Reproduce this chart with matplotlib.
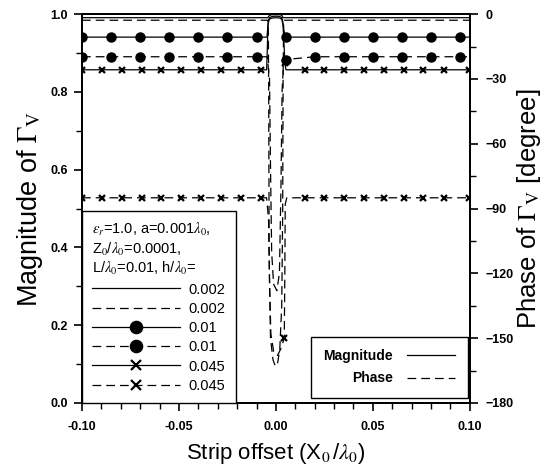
import numpy as np
import matplotlib
matplotlib.use("Agg")
import matplotlib.pyplot as plt
from matplotlib.lines import Line2D

plt.rcParams["font.family"] = ["Liberation Sans", "DejaVu Sans"]
plt.rcParams["mathtext.fontset"] = "stix"

# ---------------------------------------------------------------
# values
# ---------------------------------------------------------------
x_range = [-0.1, 0.1]

# marker positions along the flat parts
circle_x = [-0.1, -0.085, -0.07, -0.055, -0.04, -0.025, -0.01,
            0.02, 0.035, 0.05, 0.065, 0.08, 0.095]
cross_x = [-0.1, -0.0898, -0.0795, -0.0693, -0.059, -0.0488, -0.0385,
           -0.0283, -0.018, -0.0078, 0.015, 0.025, 0.035, 0.0455,
           0.0555, 0.066, 0.076, 0.0865, 0.0995]

# magnitude, h/lambda0 = 0.002
mag_002_flat = 0.991
mag_002_dip_x = [-0.0042, -0.0039, -0.0035, -0.0028, -0.0015, 0.0, 0.0015, 0.0026, 0.0032, 0.0036]
mag_002_dip_y = [0.991, 0.993, 0.996, 0.998, 0.999, 0.999, 0.999, 0.998, 0.996, 0.991]

# magnitude, h/lambda0 = 0.01
mag_01_flat = 0.941
mag_01_dip_x = [-0.0046, -0.0043, -0.0039, -0.0033, -0.002, 0.0, 0.002, 0.003, 0.0035, 0.004, 0.005]
mag_01_dip_y = [0.941, 0.96, 0.982, 0.991, 0.994, 0.995, 0.994, 0.991, 0.982, 0.96, 0.941]
mag_01_dip_mark = [0.005]

# magnitude, h/lambda0 = 0.045
mag_045_flat = 0.857
mag_045_dip_x = [-0.0048, -0.0045, -0.0041, -0.0035, -0.002, 0.0, 0.002, 0.003, 0.0037, 0.0043, 0.0046, 0.0052]
mag_045_dip_y = [0.857, 0.9, 0.972, 0.987, 0.99, 0.991, 0.99, 0.987, 0.972, 0.91, 0.874, 0.857]
mag_045_dip_mark = [0.0046]

# phase [degree], h/lambda0 = 0.002
ph_002_flat = -2.8
ph_002_dip_x = [-0.0042, -0.0039, -0.0037, -0.0035, -0.0028, -0.0015, -0.0003, 0.0008,
                0.002, 0.003, 0.0035, 0.0037, 0.004]
ph_002_dip_y = [-2.8, -8, -40, -110, -150, -160, -163, -162, -155, -135, -90, -30, -2.8]

# phase [degree], h/lambda0 = 0.01
ph_01_flat = -19.7
ph_01_dip_x = [-0.0045, -0.0033, -0.0028, -0.0022, -0.0012, 0.0005, 0.0018, 0.0026,
               0.0032, 0.004, 0.005]
ph_01_dip_y = [-19.7, -30, -70, -110, -125, -128, -120, -80, -35, -22, -21]
ph_01_dip_mark = [0.005]

# phase [degree], h/lambda0 = 0.045
ph_045_flat = -85.0
ph_045_dip_x = [-0.0048, -0.0038, -0.0033, -0.0026, -0.0012, 0.0008, 0.0025, 0.0036,
                0.0043, 0.0046, 0.0048, 0.0056]
ph_045_dip_y = [-85, -95, -125, -148, -156, -158, -155, -152, -150, -120, -88, -85]
ph_045_dip_mark = [0.0043]

h_labels = ["0.002", "0.002", "0.01", "0.01", "0.045", "0.045"]


def build(flat, marks, dip_x, dip_y, dip_mark=()):
    pts = {x_range[0]: flat, x_range[1]: flat}
    for m in marks:
        pts[m] = flat
    for xx, yy in zip(dip_x, dip_y):
        pts[xx] = yy
    xs = sorted(pts)
    ys = [pts[v] for v in xs]
    mk = [i for i, v in enumerate(xs) if v in marks or v in dip_mark]
    return xs, ys, mk


fig = plt.figure(figsize=(5.44, 4.73), dpi=100)
ax = fig.add_axes([0.1507, 0.148, 0.713, 0.822])
ax2 = ax.twinx()

lw = 0.9
dash = (7, 4)
c_kw = dict(marker="o", ms=6.5, mfc="black", mec="black")
x_kw = dict(marker="x", ms=5, mew=1.6, mec="black")

# magnitude (solid)
xs, ys, mk = build(mag_002_flat, [], mag_002_dip_x, mag_002_dip_y)
ax.plot(xs, ys, color="black", lw=lw)
xs, ys, mk = build(mag_01_flat, circle_x, mag_01_dip_x, mag_01_dip_y, mag_01_dip_mark)
ax.plot(xs, ys, color="black", lw=lw, markevery=mk, **c_kw)
xs, ys, mk = build(mag_045_flat, cross_x, mag_045_dip_x, mag_045_dip_y, mag_045_dip_mark)
ax.plot(xs, ys, color="black", lw=lw, markevery=mk, **x_kw)

# phase (dashed)
xs, ys, mk = build(ph_002_flat, [], ph_002_dip_x, ph_002_dip_y)
ax2.plot(xs, ys, color="black", lw=lw, ls=(0, dash))
xs, ys, mk = build(ph_01_flat, circle_x, ph_01_dip_x, ph_01_dip_y, ph_01_dip_mark)
ax2.plot(xs, ys, color="black", lw=lw, ls=(0, dash), markevery=mk, **c_kw)
xs, ys, mk = build(ph_045_flat, cross_x, ph_045_dip_x, ph_045_dip_y, ph_045_dip_mark)
ax2.plot(xs, ys, color="black", lw=lw, ls=(0, dash), markevery=mk, **x_kw)

# axes
ax.set_xlim(-0.1, 0.1)
ax.set_ylim(0.0, 1.0)
ax2.set_ylim(-180, 0)
ax.set_xticks(np.arange(-0.1, 0.1001, 0.05))
ax.set_xticks(np.arange(-0.1, 0.1001, 0.01), minor=True)
ax.set_yticks(np.arange(0, 1.001, 0.2))
ax.set_yticks(np.arange(0, 1.001, 0.1), minor=True)
ax2.set_yticks(np.arange(-180, 1, 30))
ax2.set_yticks(np.arange(-180, 1, 15), minor=True)
ax.xaxis.set_major_formatter(plt.FormatStrFormatter("%.2f"))
ax.yaxis.set_major_formatter(plt.FormatStrFormatter("%.1f"))

for a in (ax, ax2):
    for s in a.spines.values():
        s.set_linewidth(1.3)
    a.tick_params(which="major", length=6, width=1.2, direction="out", labelsize=9)
    a.tick_params(which="minor", length=4, width=1.0, direction="out")
for lab in ax.get_xticklabels() + ax.get_yticklabels() + ax2.get_yticklabels():
    lab.set_fontweight("bold")
ax.tick_params(axis="y", pad=4)
ax.tick_params(axis="x", pad=7)
ax2.tick_params(axis="y", pad=5)

ax.set_xlabel(r"Strip offset (X$_0\,$/$\lambda_0$)", fontsize=16, labelpad=6)
ax.set_ylabel(r"Magnitude of $\Gamma_{\mathrm{V}}$", fontsize=19.5, labelpad=4)
ax2.set_ylabel(r"Phase of $\Gamma_{\mathrm{V}}$ [degree]", fontsize=18.5, labelpad=1)

# parameter legend
ln = lambda ls, **kw: Line2D([], [], color="black", lw=lw, ls=ls, **kw)
handles = [ln("-"), ln((0, dash)),
           ln("-", **c_kw), ln((0, dash), **c_kw),
           ln("-", **x_kw), ln((0, dash), **x_kw)]
leg1 = ax2.legend(handles, h_labels, loc="lower left", bbox_to_anchor=(0.0, 0.0),
                  borderaxespad=0.0, fontsize=10.5, handlelength=6.0, markerscale=1.35,
                  labelspacing=0.36, handletextpad=0.6, borderpad=0.7,
                  title="$\\epsilon_r$=1.0, a=0.001$\\lambda_0$,\n"
                        "Z$_0$/$\\lambda_0$=0.0001,\n"
                        "L/$\\lambda_0$=0.01, h/$\\lambda_0$=",
                  title_fontsize=10.5, alignment="left", fancybox=False,
                  framealpha=1.0, edgecolor="black")
leg1.get_frame().set_linewidth(1.0)
ax2.add_artist(leg1)

# magnitude / phase legend
leg2 = ax2.legend([ln("-"), ln((0, dash))], ["Magnitude", "Phase"],
                  loc="lower right", bbox_to_anchor=(0.995, 0.013), borderaxespad=0.0,
                  markerfirst=False, handlelength=3.5, labelspacing=0.6,
                  borderpad=0.9, handletextpad=1.0, fancybox=False, framealpha=1.0,
                  edgecolor="black", prop={"weight": "bold", "size": 10})
leg2.get_frame().set_linewidth(1.0)

fig.savefig("out.png", dpi=100)
